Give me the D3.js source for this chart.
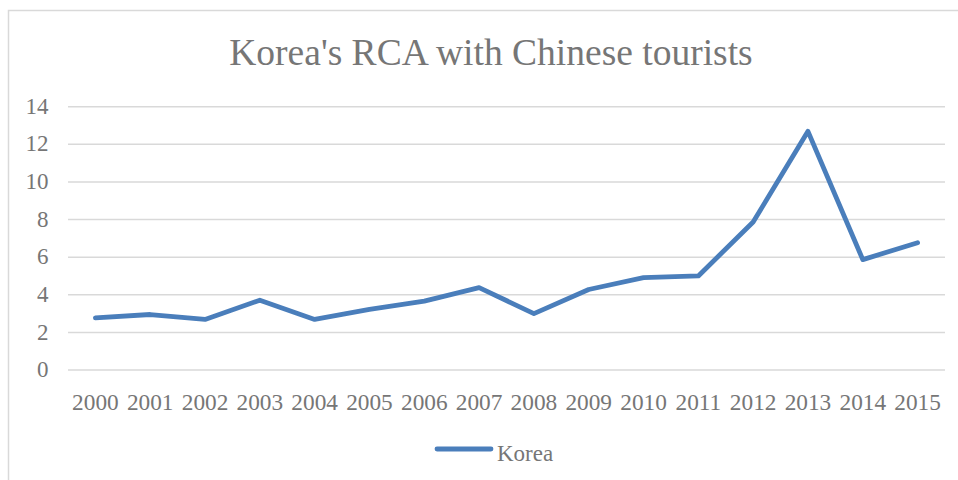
<!DOCTYPE html>
<html><head><meta charset="utf-8">
<script src="https://cdn.jsdelivr.net/npm/d3@7"></script>
<style>html,body{margin:0;padding:0;background:#fff;}</style>
</head><body>
<svg id="chart" width="958" height="480"></svg>
<script>
const title = "Korea's RCA with Chinese tourists";
const seriesName = "Korea";
const years = ["2000","2001","2002","2003","2004","2005","2006","2007","2008","2009","2010","2011","2012","2013","2014","2015"];
const values = [2.77, 2.95, 2.69, 3.71, 2.69, 3.22, 3.66, 4.38, 3.0, 4.28, 4.91, 5.0, 7.87, 12.69, 5.87, 6.77];
const yTicks = [0, 2, 4, 6, 8, 10, 12, 14];

const svg = d3.select("#chart");
const font = "\"Liberation Serif\", \"Times New Roman\", Times, serif";
const textColor = "#767676";
const gridColor = "#d9d9d9";
const lineColor = "#4a7ebb";

svg.append("rect").attr("x", 8.5).attr("y", 10.5).attr("width", 960).attr("height", 480)
  .attr("fill", "#fff").attr("stroke", gridColor).attr("stroke-width", 1.5);

const m = {left: 68, right: 945, top: 106.7, bottom: 370};
const x = d3.scaleBand().domain(years).range([m.left, m.right]);
const y = d3.scaleLinear().domain([0, 14]).range([m.bottom, m.top]);

svg.append("g").selectAll("line").data(yTicks).join("line")
  .attr("x1", m.left).attr("x2", m.right)
  .attr("y1", d => y(d)).attr("y2", d => y(d))
  .attr("stroke", gridColor).attr("stroke-width", 1.5);

const yAxis = d3.axisLeft(y).tickValues(yTicks).tickSize(0).tickPadding(0);
const gy = svg.append("g").attr("transform", `translate(48.5,0)`).call(yAxis);
gy.select(".domain").remove();
gy.selectAll("text").style("font-family", font).style("font-size", "23px").attr("fill", textColor).attr("dy", "0.29em");

const xAxis = d3.axisBottom(x).tickSize(0).tickPadding(0);
const gx = svg.append("g").attr("transform", `translate(0,${m.bottom})`).call(xAxis);
gx.select(".domain").remove();
gx.selectAll("text").style("font-family", font).style("font-size", "23.3px").attr("fill", textColor)
  .attr("y", 40).attr("dy", 0);

const line = d3.line().x((d, i) => x(years[i]) + x.bandwidth() / 2).y(d => y(d));
svg.append("path").datum(values).attr("d", line)
  .attr("fill", "none").attr("stroke", lineColor).attr("stroke-width", 4.8)
  .attr("stroke-linejoin", "round").attr("stroke-linecap", "round");

svg.append("text").attr("x", 491).attr("y", 64.5).attr("text-anchor", "middle")
  .style("font-family", font).style("font-size", "37.5px").attr("fill", textColor).text(title);

svg.append("line").attr("x1", 437).attr("x2", 491).attr("y1", 449).attr("y2", 449)
  .attr("stroke", lineColor).attr("stroke-width", 4.8).attr("stroke-linecap", "round");
svg.append("text").attr("x", 497).attr("y", 460.5)
  .style("font-family", font).style("font-size", "23px").attr("fill", textColor).text(seriesName);
</script>
</body></html>
